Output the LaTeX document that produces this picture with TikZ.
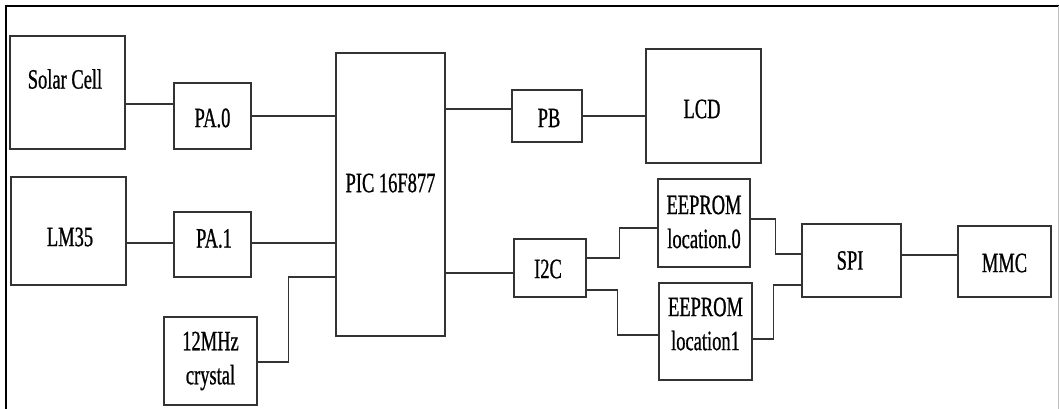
\documentclass[tikz,border=0pt]{standalone}
\usepackage{fontspec}
\setmainfont[FakeStretch=0.66,FakeBold=0.8]{Liberation Serif}
\begin{document}
\begin{tikzpicture}[x=1pt,y=-1pt,
  box/.style={draw=black!80, line width=1.4pt, inner sep=0pt},
  txt/.style={inner sep=0pt, font=\fontsize{28}{34}\selectfont, align=center, text=black},
  wire/.style={draw=black!80, line width=1.4pt}]
\useasboundingbox (0,0) rectangle (1059,409);
% outer frame
\draw[line width=2.6pt, black] (6,409) -- (6,6) -- (1059,6);
\draw[line width=0.8pt, black!25] (1058,6) -- (1058,409);

% boxes
\node[box, minimum width=115pt, minimum height=113pt, label={[txt, xshift=-2.5pt, yshift=13.5pt]center:Solar Cell}] (solar) at (67.5,92.5) {};
\node[box, minimum width=77pt, minimum height=66pt, label={[txt, yshift=-2pt]center:PA.0}] (pa0) at (212.5,116) {};
\node[box, minimum width=115pt, minimum height=108pt, label={[txt, xshift=1.5pt, yshift=-6pt]center:LM35}] (lm35) at (68.5,231) {};
\node[box, minimum width=77pt, minimum height=65pt, label={[txt, xshift=1.5pt, yshift=6pt]center:PA.1}] (pa1) at (212.5,244.5) {};
\node[box, minimum width=93pt, minimum height=88pt, label={[txt]center:12MHz\\crystal}] (crystal) at (210.5,361) {};
\node[box, minimum width=109pt, minimum height=283pt, label={[txt, yshift=11.5pt]center:PIC 16F877}] (pic) at (390.5,194.5) {};
\node[box, minimum width=70pt, minimum height=52pt, label={[txt, xshift=2pt, yshift=-2pt]center:PB}] (pb) at (547,116) {};
\node[box, minimum width=115pt, minimum height=114pt, label={[txt, xshift=-1.5pt, yshift=-3pt]center:LCD}] (lcd) at (703.5,106) {};
\node[box, minimum width=72pt, minimum height=58pt, label={[txt, xshift=-2pt, yshift=-1pt]center:I2C}] (i2c) at (550,268) {};
\node[box, minimum width=92pt, minimum height=88pt, label={[txt, yshift=1pt]center:EEPROM\\location.0}] (ee0) at (704,223) {};
\node[box, minimum width=93pt, minimum height=97pt, label={[txt, yshift=7.5pt]center:EEPROM\\location1}] (ee1) at (705.5,331.5) {};
\node[box, minimum width=99pt, minimum height=73pt, label={[txt, xshift=-1.5pt]center:SPI}] (spi) at (851.5,260.5) {};
\node[box, minimum width=93pt, minimum height=71pt, label={[txt, yshift=-1.5pt]center:MMC}] (mmc) at (1004.5,261.5) {};

% connection points
\coordinate (solarO) at ([yshift=-11.5pt]solar.east);
\coordinate (lm35O) at ([yshift=-12pt]lm35.east);
\coordinate (pa1O) at ([yshift=1.5pt]pa1.east);
\coordinate (picB) at ([yshift=85.5pt]pic.east);
\coordinate (picI) at ([yshift=-78.5pt]pic.east);
\coordinate (spiO) at ([yshift=5.5pt]spi.east);

% connectors
\draw[wire] (solarO) -- (solarO -| pa0.west);
\draw[wire] (pa0.east) -- (pa0.east -| pic.west);
\draw[wire] (lm35O) -- (lm35O -| pa1.west);
\draw[wire] (pa1O) -- (pa1O -| pic.west);
\draw[wire] ([yshift=-1pt]crystal.east) -- ++(31,0) |- ([yshift=-82.5pt]pic.west);
\draw[wire] (picB) -- (picB -| pb.west);
\draw[wire] (pb.east) -- (pb.east -| lcd.west);
\draw[wire] (picI) -- (picI -| i2c.west);
\draw[wire] ([yshift=10pt]i2c.east) -- ++(33,0) |- ([yshift=-5pt]ee0.west);
\draw[wire] ([yshift=-22pt]i2c.east) -- ++(31,0) |- ([yshift=-3.5pt]ee1.west);
\draw[wire] ([yshift=4pt]ee0.east) -- ++(25,0) |- ([yshift=6.5pt]spi.west);
\draw[wire] ([yshift=-7.5pt]ee1.east) -- ++(21,0) |- ([yshift=-24.5pt]spi.west);
\draw[wire] (spiO) -- (spiO -| mmc.west);
\end{tikzpicture}
\end{document}
